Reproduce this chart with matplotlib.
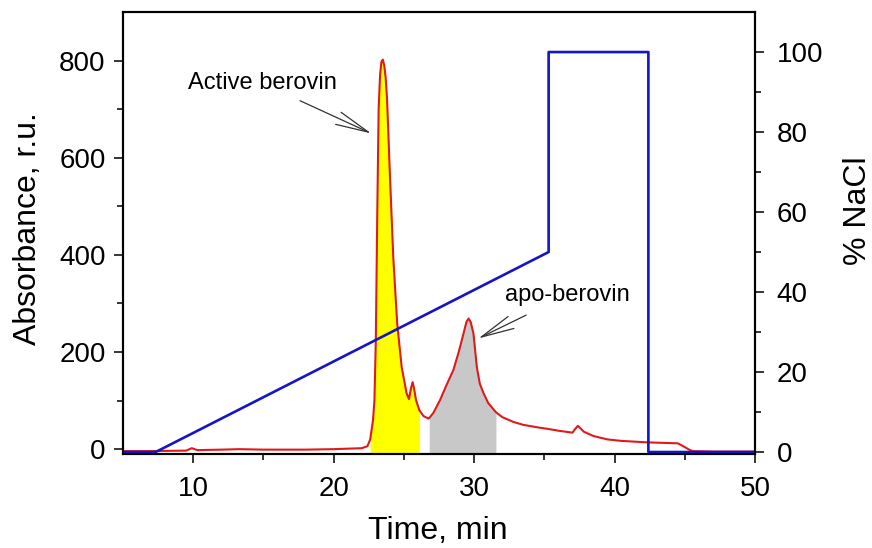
import numpy as np
import matplotlib.pyplot as plt

plt.rcParams['font.family'] = ['Liberation Sans', 'DejaVu Sans']

# absorbance trace (time in min, absorbance in r.u.)
time = np.array([5.0, 7.0, 9.5, 9.9, 10.3, 12.0, 13.3, 15.0, 18.0, 20.0, 22.0, 22.4, 22.6,
                 22.7, 22.8, 22.9, 23.0, 23.1, 23.2, 23.3, 23.4, 23.5, 23.6, 23.7, 23.8,
                 24.0, 24.24, 24.52, 24.84, 25.19, 25.36, 25.5, 25.62, 25.72, 25.86, 26.1,
                 26.4, 26.74, 26.8, 27.1, 27.57, 28.0, 28.52, 28.9, 29.24, 29.45, 29.6,
                 29.75, 29.95, 30.19, 30.4, 30.67, 31.0, 31.55, 32.0, 32.8, 33.5, 34.7,
                 35.2, 36.0, 37.0, 37.2, 37.38, 37.6, 37.8, 38.5, 39.5, 40.5, 42.3, 44.5,
                 44.95, 45.3, 45.55, 47.0, 50.0])
absorb = np.array([-4, -4, -3, 2, -2, -1, 0, -1, -1, 0, 2, 6, 20,
                   40, 60, 100, 224, 480, 700, 770, 798, 802, 790, 765, 720,
                   567, 396, 259, 169, 115, 103, 125, 138, 125, 101, 80,
                   68, 63, 64, 75, 101, 130, 163, 200, 238, 262, 269,
                   262, 238, 169, 135, 115, 95, 76, 66, 56, 50, 44,
                   42, 38, 34, 42, 48, 42, 36, 27, 20, 17, 14, 12,
                   5, -1, -4, -5, -5])

# NaCl gradient (%)
grad_time = [5.0, 7.33, 35.3, 35.3, 42.4, 42.4, 50.0]
grad_nacl = [0, 0, 50, 100, 100, 0, 0]

# integrated fractions
active_range = (22.6, 26.1)
apo_range = (26.8, 31.55)

fig, ax = plt.subplots(figsize=(8.72, 5.48), dpi=100)
fig.subplots_adjust(left=0.141, right=0.866, top=0.978, bottom=0.1715)

ax.fill_between(time, absorb, -10, where=(time >= active_range[0]) & (time <= active_range[1]),
                color='#ffff00', lw=0, zorder=1)
ax.fill_between(time, absorb, -10, where=(time >= apo_range[0]) & (time <= apo_range[1]),
                color='#c8c8c8', lw=0, zorder=1)
ax.plot(time, absorb, color='#e01a1a', lw=1.5, zorder=2)

ax.set_xlim(5, 50)
ax.set_ylim(-10, 900)
ax.set_xticks([10, 20, 30, 40, 50])
ax.set_xticks([15, 25, 35, 45], minor=True)
ax.set_yticks([0, 200, 400, 600, 800])
ax.set_yticks([100, 300, 500, 700], minor=True)
ax.tick_params(which='major', direction='out', length=6.5, width=1.1, labelsize=20, pad=9)
ax.tick_params(which='minor', direction='out', length=4, width=1.1)
ax.tick_params(axis='y', pad=6)
for s in ax.spines.values():
    s.set_linewidth(1.5)
ax.set_xlabel('Time, min', fontsize=23)
ax.set_ylabel('Absorbance, r.u.', fontsize=23)
ax.xaxis.set_label_coords(0.498, -0.140)
ax.yaxis.set_label_coords(-0.127, 0.511)

ax.annotate('Active berovin', xy=(22.68, 650), xytext=(14.93, 753), fontsize=17,
            ha='center', va='center',
            arrowprops=dict(arrowstyle='->,head_length=1.4,head_width=0.28', color='#333333',
                            lw=0.9, shrinkA=6, shrinkB=0))
ax.annotate('apo-berovin', xy=(30.3, 228), xytext=(36.6, 317), fontsize=17,
            ha='center', va='center',
            arrowprops=dict(arrowstyle='->,head_length=1.4,head_width=0.28', color='#333333',
                            lw=0.9, shrinkA=10, shrinkB=0))

ax2 = ax.twinx()
ax2.plot(grad_time, grad_nacl, color='#1414c8', lw=1.9)
ax2.set_ylim(-0.5, 110)
ax2.set_yticks([0, 20, 40, 60, 80, 100])
ax2.set_yticks([10, 30, 50, 70, 90], minor=True)
ax2.tick_params(which='major', direction='out', length=6.5, width=1.1, labelsize=20, pad=9)
ax2.tick_params(which='minor', direction='out', length=4, width=1.1)
for s in ax2.spines.values():
    s.set_linewidth(1.5)
ax2.set_ylabel('% NaCl', fontsize=23)
ax2.yaxis.set_label_coords(1.139, 0.55)

fig.savefig('out.png', dpi=100)
